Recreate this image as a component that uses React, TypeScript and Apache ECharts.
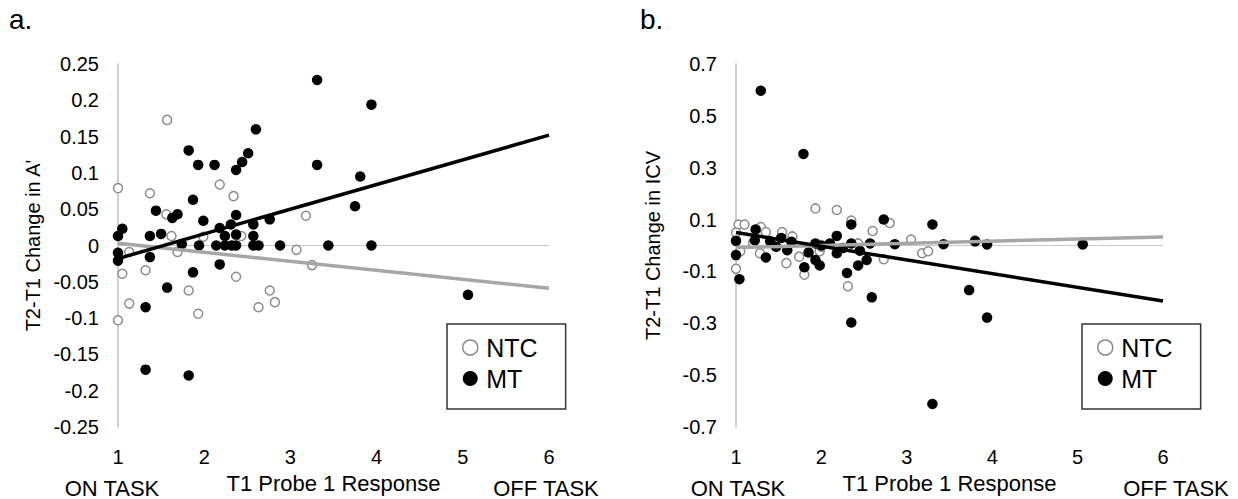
import React, { useEffect, useRef } from "react";
import * as echarts from "echarts";

const FONT = "'Liberation Sans', Arial, Helvetica, sans-serif";

const xTicks = [1, 2, 3, 4, 5, 6];
const panelLabels = ["a.", "b."];
const yTitles = ["T2-T1 Change in A'", "T2-T1 Change in ICV"];
const xTitle = "T1 Probe 1 Response";
const endLabels = ["ON TASK", "OFF TASK"];
const seriesNames = ["NTC", "MT"];

// Panel a: change in A'
const aNTC: [number, number][] = [
  [1.57, 0.173], [1.0, 0.079], [1.37, 0.072], [2.18, 0.084], [2.34, 0.068], [1.56, 0.043],
  [3.18, 0.041], [1.62, 0.013], [2.43, 0.013], [1.99, 0.012], [3.07, -0.006], [1.13, -0.009],
  [1.69, -0.009], [3.25, -0.027], [1.05, -0.039], [1.32, -0.034], [2.37, -0.043], [1.82, -0.062],
  [2.76, -0.062], [1.13, -0.08], [2.63, -0.085], [2.82, -0.078], [1.93, -0.094], [1.0, -0.103],
];
const aMT: [number, number][] = [
  [3.31, 0.228], [2.6, 0.16], [1.82, 0.131], [1.93, 0.111], [2.12, 0.111], [3.31, 0.111],
  [2.51, 0.127], [2.44, 0.115], [2.37, 0.104], [1.87, 0.063], [1.44, 0.048], [1.63, 0.038],
  [1.69, 0.043], [1.99, 0.034], [2.37, 0.042], [2.57, 0.029], [2.76, 0.036], [1.05, 0.023],
  [1.0, 0.013], [1.37, 0.013], [1.5, 0.016], [2.18, 0.024], [2.31, 0.029], [2.24, 0.013],
  [2.37, 0.015], [2.57, 0.013], [1.94, 0.0], [2.14, 0.0], [2.24, 0.0], [2.32, 0.0], [2.37, 0.0],
  [2.57, 0.0], [2.63, 0.0], [2.88, 0.0], [3.44, 0.0], [3.94, 0.0], [1.74, 0.002], [3.94, 0.194],
  [3.81, 0.095], [3.75, 0.054], [5.06, -0.068], [1.0, -0.01], [1.0, -0.021], [1.37, -0.016],
  [2.18, -0.026], [1.87, -0.037], [1.57, -0.058], [1.32, -0.085], [1.32, -0.171], [1.82, -0.179],
];
const aTrendNTC: [number, number][] = [[1, 0.003], [6, -0.059]];
const aTrendMT: [number, number][] = [[1, -0.018], [6, 0.152]];

// Panel b: change in ICV
const bNTC: [number, number][] = [
  [1.93, 0.143], [2.18, 0.137], [2.35, 0.096], [2.8, 0.087], [2.6, 0.056], [1.03, 0.081],
  [1.1, 0.081], [1.29, 0.071], [1.35, 0.052], [1.54, 0.052], [1.66, 0.035], [3.05, 0.023],
  [1.0, -0.09], [1.05, -0.022], [1.28, -0.03], [1.59, -0.068], [1.74, -0.043], [1.8, -0.113],
  [1.98, -0.022], [2.31, -0.157], [2.73, -0.053], [3.18, -0.03], [3.25, -0.022], [2.43, 0.008],
  [3.8, 0.02], [1.0, 0.05], [1.2, 0.01], [2.0, -0.005],
];
const bMT: [number, number][] = [
  [1.29, 0.597], [1.79, 0.353], [2.35, 0.081], [2.73, 0.1], [3.3, 0.081], [1.23, 0.062],
  [2.18, 0.037], [1.0, 0.018], [1.0, -0.037], [1.04, -0.13], [1.35, -0.046], [1.6, -0.018],
  [1.8, -0.084], [1.85, -0.027], [1.93, -0.056], [1.98, -0.077], [2.18, -0.03], [2.3, -0.106],
  [2.43, -0.077], [2.53, -0.056], [2.59, -0.2], [2.35, -0.297], [3.3, -0.611], [3.73, -0.172],
  [3.94, -0.278], [1.93, 0.008], [2.1, 0.008], [2.35, 0.008], [2.57, 0.008], [2.86, 0.005],
  [3.43, 0.005], [1.22, 0.02], [1.4, 0.016], [1.53, 0.029], [1.65, 0.014], [1.47, -0.005],
  [3.8, 0.016], [3.94, 0.004], [5.06, 0.004], [2.0, 0.0], [2.25, -0.01], [2.45, -0.02],
];
const bTrendNTC: [number, number][] = [[1, -0.008], [6, 0.033]];
const bTrendMT: [number, number][] = [[1, 0.05], [6, -0.214]];

const zeroLine: [number, number][] = [[1, 0], [6, 0]];

const yRanges = [
  { min: -0.25, max: 0.25, interval: 0.05 },
  { min: -0.7, max: 0.7, interval: 0.2 },
];

const grids = [
  { left: 118, top: 64, width: 431, height: 368 },
  { left: 736, top: 64, width: 427, height: 368 },
];

export default function App() {
  const ref = useRef<HTMLDivElement>(null);
  useEffect(() => {
    const chart = echarts.init(ref.current!, null, { renderer: "svg" });
    const ntcStyle = { color: "#ffffff", borderColor: "#8c8c8c", borderWidth: 1.5, opacity: 1 };
    const mtStyle = { color: "#000000", opacity: 1 };
    const panels = [
      { ntc: aNTC, mt: aMT, tn: aTrendNTC, tm: aTrendMT },
      { ntc: bNTC, mt: bMT, tn: bTrendNTC, tm: bTrendMT },
    ];
    const series: any[] = [];
    panels.forEach((p, i) => {
      series.push({
        type: "line", xAxisIndex: i, yAxisIndex: i, data: zeroLine, symbol: "none", silent: true,
        lineStyle: { color: "#c8c8c8", width: 1.2 }, z: 1,
      });
      series.push({
        name: seriesNames[0], type: "scatter", xAxisIndex: i, yAxisIndex: i, data: p.ntc,
        symbol: "circle", symbolSize: 9, itemStyle: ntcStyle, z: 2,
      });
      series.push({
        name: seriesNames[1], type: "scatter", xAxisIndex: i, yAxisIndex: i, data: p.mt,
        symbol: "circle", symbolSize: 10.5, itemStyle: mtStyle, z: 3,
      });
      series.push({
        type: "line", xAxisIndex: i, yAxisIndex: i, data: p.tn, symbol: "none", silent: true,
        lineStyle: { color: "#a6a6a6", width: 3.5 }, z: 4,
      });
      series.push({
        type: "line", xAxisIndex: i, yAxisIndex: i, data: p.tm, symbol: "none", silent: true,
        lineStyle: { color: "#000000", width: 3.5 }, z: 5,
      });
    });

    const legendData = [
      { name: seriesNames[0], icon: "circle", itemStyle: { color: "#ffffff", borderColor: "#8c8c8c", borderWidth: 1.5, opacity: 1 } },
      { name: seriesNames[1], icon: "circle", itemStyle: { color: "#000000", opacity: 1 } },
    ];
    const legendLefts = [447, 1082];

    const graphics: any[] = [];
    const panelX = [9, 640];
    panelLabels.forEach((t, i) => {
      graphics.push({
        type: "text", left: panelX[i], top: 5,
        style: { text: t, fontSize: 28, fontFamily: FONT, fill: "#000" },
      });
    });
    const onX = [112, 738];
    const offX = [546, 1176];
    [0, 1].forEach((i) => {
      graphics.push({
        type: "text", x: onX[i], y: 488,
        style: { text: endLabels[0], fontSize: 22, fontFamily: FONT, fill: "#000", align: "center", verticalAlign: "middle" },
      });
      graphics.push({
        type: "text", x: offX[i], y: 488,
        style: { text: endLabels[1], fontSize: 22, fontFamily: FONT, fill: "#000", align: "center", verticalAlign: "middle" },
      });
    });

    chart.setOption({
      animation: false,
      backgroundColor: "#ffffff",
      textStyle: { fontFamily: FONT },
      grid: grids,
      xAxis: grids.map((_, i) => ({
        type: "value", gridIndex: i, min: xTicks[0], max: xTicks[xTicks.length - 1], interval: 1,
        axisLine: { show: false }, axisTick: { show: false }, splitLine: { show: false },
        axisLabel: { fontSize: 20, color: "#000", margin: 20, fontFamily: FONT },
        name: xTitle, nameLocation: "middle", nameGap: 45,
        nameTextStyle: { fontSize: 22, color: "#000", fontFamily: FONT },
      })),
      yAxis: yRanges.map((r, i) => ({
        type: "value", gridIndex: i, min: r.min, max: r.max, interval: r.interval,
        axisLine: { show: true, onZero: false, lineStyle: { color: "#bfbfbf", width: 1.5 } },
        axisTick: { show: false }, splitLine: { show: false },
        axisLabel: {
          fontSize: 20, color: "#000", margin: 19, fontFamily: FONT,
          formatter: (v: number) => (i === 0 ? String(Math.round(v * 100) / 100) : v.toFixed(1)),
        },
        name: yTitles[i], nameLocation: "middle", nameRotate: 90, nameGap: i === 0 ? 75 : 73,
        nameTextStyle: { fontSize: 20, color: "#000", fontFamily: FONT },
      })),
      legend: legendLefts.map((l) => ({
        data: legendData, orient: "vertical", left: l, top: 324, selectedMode: false,
        padding: [11, 28, 18, 15], itemGap: 6, itemWidth: 22, itemHeight: 15,
        borderColor: "#333", borderWidth: 1.5,
        textStyle: { fontSize: 25, color: "#000", fontFamily: FONT },
      })),
      graphic: graphics,
      series,
    });
    return () => chart.dispose();
  }, []);
  return (
    <div
      ref={ref}
      style={{ position: "absolute", left: 0, top: 0, width: 1238, height: 499, background: "#fff" }}
    />
  );
}
